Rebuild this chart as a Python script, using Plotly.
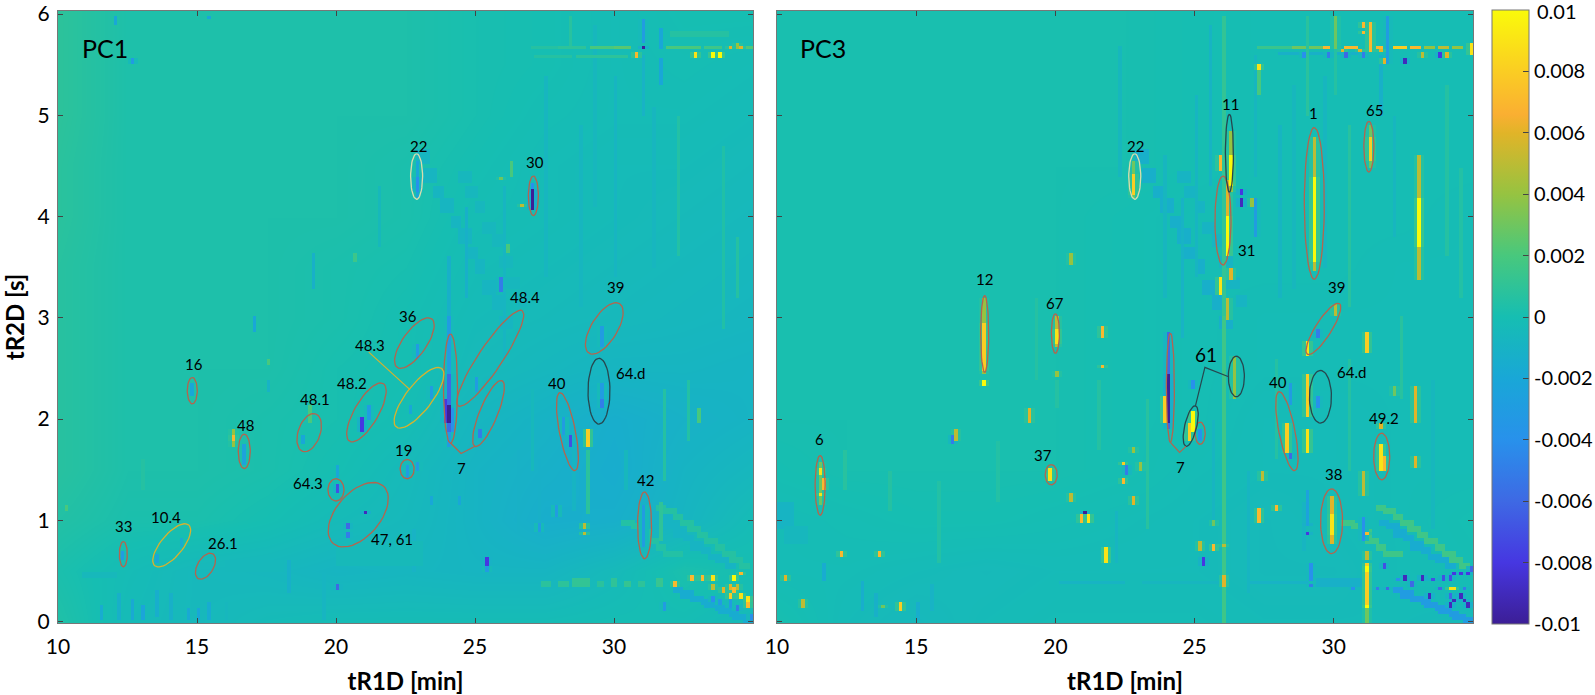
import numpy as np
import plotly.graph_objects as go

W, H = 1595, 695
L_DOM = (58, 753)
R_DOM = (777, 1473)
Y_DOM = (11, 623)
XR = [10, 35]
YR = [-0.015, 6.03]

CBAR_VALS = [0.008, 0.006, 0.004, 0.002, 0, -0.002, -0.004, -0.006, -0.008, -0.01]
CBAR_TEXT = ["0.008", "0.006", "0.004", "0.002", "0", "-0.002", "-0.004", "-0.006", "-0.008", "-0.01"]
CBAR_TOP_TEXT = "0.01"
COLORS = [[0, "rgb(60,30,150)"], [0.1, "rgb(70,55,225)"], [0.2, "rgb(62,105,228)"], [0.3, "rgb(40,145,235)"],
          [0.4, "rgb(25,167,215)"], [0.5, "rgb(22,190,178)"], [0.6, "rgb(72,200,125)"], [0.7, "rgb(150,195,65)"],
          [0.8, "rgb(225,180,40)"], [0.83, "rgb(250,175,50)"], [0.9, "rgb(250,205,35)"], [1, "rgb(250,250,10)"]]

# coarse background, in units of 1e-3 (rows y = 0 ... 6 by 0.5, columns x = 10 ... 35 by 2.5)
BG_X = [10, 12.5, 15, 17.5, 20, 22.5, 25, 27.5, 30, 32.5, 35]
BG_Y = [0, .5, 1, 1.5, 2, 2.5, 3, 3.5, 4, 4.5, 5, 5.5, 6]
BG_PC1 = [
    [.4, -.3, -.5, -.3, -.2, -.2, -.2, -.2, -.1, -.1, -.4],
    [.2, -.2, -.5, -.6, -.8, -.7, -.8, -.8, -.4, .2, 0],
    [.5, .2, .2, 0, -.3, -.5, -.9, -1.4, -1.3, -.8, -.2],
    [.7, .3, .3, .2, 0, -.4, -.9, -1.2, -1.5, -.9, -.6],
    [.7, .3, .3, .2, .1, -.1, -.7, -1.0, -1.4, -1.1, -.9],
    [.7, .3, .3, .3, .1, 0, -.4, -.6, -.8, -.8, -.9],
    [.7, .3, .3, .3, .2, 0, -.3, -.4, -.5, -.6, -.7],
    [.7, .3, .3, .3, .2, .1, -.2, -.3, -.4, -.5, -.6],
    [.8, .3, .3, .3, .3, .2, -.1, -.2, -.3, -.4, -.5],
    [.8, .3, .3, .3, .3, .2, 0, -.2, -.3, -.3, -.4],
    [.9, .3, .3, .3, .3, .3, .1, -.1, -.2, -.2, -.3],
    [.9, .3, .3, .3, .3, .3, .1, 0, -.2, -.1, -.2],
    [.9, .3, .3, .3, .3, .3, .1, 0, -.2, 0, 0],
]
BG_PC3 = [
    [.1, -.3, -.5, -.3, -.2, -.2, -.2, -.3, -.3, -.3, -.4],
    [-.2, -.2, -.3, -.4, -.3, -.3, -.3, -.4, -.4, -.2, -.1],
    [-.2, -.1, 0, 0, -.1, -.2, -.3, -.4, -.3, -.2, 0],
    [0, .1, .1, .1, .1, 0, -.2, -.3, -.3, -.2, -.2],
    [.1, .1, .1, .1, .1, 0, -.1, -.3, -.3, -.2, -.2],
    [.1, .1, .1, .1, .1, 0, -.1, -.2, -.2, -.2, -.2],
    [.1, .1, .1, .1, .1, 0, -.1, -.2, -.2, -.2, -.2],
    [.1, .1, .1, .1, .1, 0, -.1, -.1, -.1, -.2, -.2],
    [.1, .1, .1, .1, .1, 0, -.1, -.1, -.1, -.1, -.2],
    [.1, .1, .1, .1, .1, .1, 0, -.1, -.1, -.1, -.1],
    [.1, .1, .1, .1, .1, .1, 0, -.1, -.1, -.1, -.1],
    [.1, .1, .1, .1, .1, .1, 0, -.1, -.1, -.1, -.1],
    [.1, .1, .1, .1, .1, .1, 0, -.1, -.1, -.1, -.1],
]

# broad rectangles: x0, x1, y0, y1, value
BANDS_PC1 = [
    (27.4, 27.7, 0.35, 0.42, .0008), (28, 28.3, 0.34, 0.41, .0009), (28.6, 29, 0.36, 0.43, .0011), (29.4, 29.6, 0.34, 0.42, .0008),
    (29.9, 30.1, 0.34, 0.43, .001), (30.4, 30.6, 0.36, 0.42, .0012), (30.9, 31.1, 0.34, 0.42, .0009), (31.5, 31.7, 0.36, 0.43, .0013),
    (27, 28, 5.65, 5.69, .0006), (28, 28.9, 5.65, 5.69, .0009), (29.2, 29.9, 5.65, 5.69, .002), (30.1, 30.6, 5.65, 5.69, .0024),
    (31.9, 32.4, 5.65, 5.69, .002), (32.6, 33, 5.65, 5.69, .002), (33.3, 33.8, 5.65, 5.69, .0016), (34.1, 34.9, 5.65, 5.69, .0022),
    (27.2, 28.4, 5.57, 5.6, .0006), (28.7, 30.4, 5.57, 5.6, .0009), (32, 34, 5.78, 5.84, .0006),
    (10.9, 12, 0.43, 0.5, -.0005), (16, 18, 0.5, 0.62, -.0005), (20, 23, 0.55, 0.8, -.0004),
]
BANDS_PC3 = [
    (20.2, 22.4, 0.37, 0.42, -.0009), (23.2, 25.8, 0.37, 0.42, -.0007), (27, 29, 0.37, 0.42, -.001), (29.4, 31, 0.36, 0.43, -.0012),
    (27.3, 28.5, 5.66, 5.69, .0014), (28.5, 29.5, 5.66, 5.7, .003), (29.65, 30.1, 5.66, 5.7, .007), (30.4, 30.87, 5.66, 5.7, .007),
    (31.15, 31.65, 5.66, 5.7, .007), (32, 32.55, 5.66, 5.7, .008), (32.8, 33.1, 5.66, 5.7, .007),
    (33.3, 33.5, 5.66, 5.7, .004), (33.8, 34.1, 5.66, 5.7, .005), (34.3, 34.6, 5.66, 5.7, .004),
    (28, 31, 5.6, 5.63, -.0012), (10, 10.6, 0.9, 1.2, -.0009), (10.3, 11, 0.75, 0.95, -.0006),
]

# faint vertical stripes: x, y0, y1, value
FAINT_PC1 = [
    (11.6, .02, .16, -.0016), (12.2, .02, .3, -.0012), (12.7, .02, .22, -.0018), (13, .02, .16, -.0022), (13.6, .05, .32, -.0014),
    (14.1, .02, .28, -.0012), (14.7, .02, .14, -.0018), (15.1, .02, .15, -.002), (15.4, .02, .18, -.0016), (16, .02, .2, -.0006),
    (18.3, .3, .62, -.0012), (19.6, .02, .5, -.0008), (22.8, .5, .9, -.001), (24.1, 2.85, 3.6, -.0012), (24.7, 3.2, 4.1, -.0012),
    (26.1, 2.6, 4.3, -.0008), (27.5, 3.4, 5.4, -.0007), (28.8, 3.1, 4.9, -.0007), (29.3, 4.1, 5.9, -.0006), (30.1, 3.4, 5.4, -.0008),
    (31.4, 3.5, 5.1, -.0007), (32.3, 3.6, 5, .0005), (33.9, 2.9, 4.7, .0004), (34.4, 3.2, 3.8, .0006), (21.5, 3.7, 4.3, -.0005),
    (27, 1.5, 2.3, -.0005), (26.6, .85, 1.7, -.0011), (27.3, 1, 1.6, -.0012), (28.6, 1.1, 1.9, -.0009), (30.4, 1.3, 1.7, -.0006),
    (31.8, 1.4, 2.3, .0006), (32.7, 1.8, 2.4, .0005), (16.3, 2.7, 3.4, .0003), (13, 1.3, 1.6, .0006),
]
FAINT_PC3 = [
    (22.3, 4.4, 5.7, -.0006), (23.9, 3.2, 4.6, -.0007), (24.5, 2.8, 4.2, -.001), (25, 3.4, 5.2, -.0008), (25.5, 4.3, 5.9, -.0009),
    (27.2, 4.4, 5.6, -.0007), (28, 3.2, 4.9, -.0008), (28.5, 3.3, 5.3, -.0006), (29.7, 3.5, 5.4, -.0007), (30.5, 3.1, 4.9, .0007),
    (31.7, 5.0, 5.6, -.0012), (32.2, 3.8, 5, -.0007), (34, 3.6, 5.3, .0006), (34.5, 3.2, 4.5, .0005), (23.3, .9, 2.2, .0007),
    (21.6, 1.7, 2.4, .0006), (19.3, 2.4, 3.2, .0006), (17.9, 1.2, 1.8, .0005), (15.8, .6, 1.4, .0005), (14.1, 1.1, 1.5, .0006),
    (12.4, 1.3, 1.7, .0007), (13.1, .1, .4, -.0014), (13.6, .05, .3, -.0012), (15, .02, .2, -.0014), (15.6, .1, .38, -.001),
    (11.7, .42, .6, -.0016), (27.9, 1.6, 2.6, .0006), (28.9, .7, 1.2, -.0008), (30.5, 1.5, 2.6, .0006), (32.4, 2.2, 3, .0007),
    (33.6, .9, 2.4, -.0006), (20, 2.1, 2.4, .0006), (26.9, .3, 1.5, -.0008), (25.7, 1.0, 2, -.0008), (22.2, .6, 1.1, -.0008),
]

# diagonal streaks: x, y centre
STREAK_X = [23.1, 23.4, 23.7, 24, 24.3, 24.6, 24.9, 25.2, 25.5, 25.8, 26.1]
STREAK_Y = [4.6, 4.4, 4.25, 4.1, 3.95, 3.8, 3.65, 3.5, 3.3, 3.15, 2.95]
STREAK2_X = [24.6, 24.9, 25.2, 25.5, 25.8, 26.1, 26.4, 26.7]
STREAK2_Y = [4.4, 4.25, 4.1, 3.9, 3.75, 3.55, 3.35, 3.15]
DIAG1_X = [31.7, 32, 32.3, 32.6, 32.9, 33.2, 33.5, 33.8, 34.1, 34.4, 34.7]
DIAG1_Y = [1.14, 1.09, 1.03, .97, .91, .85, .79, .73, .67, .6, .57]
DIAG2_X = [30.5, 30.8, 31.1, 31.4, 31.7, 32, 32.3]
DIAG2_Y = [.99, .93, .87, .8, .74, .68, .66]
DIAG3_X = [31.8, 32.1, 32.4, 32.7, 33, 33.3, 33.6, 33.9, 34.2]
DIAG3_Y = [.98, .93, .87, .81, .75, .7, .65, .6, .55]
DIAG4_X = [32.3, 32.6, 33, 33.3, 33.5, 33.8, 34, 34.3, 34.5, 34.9]
DIAG4_Y = [.31, .27, .22, .19, .16, .13, .1, .07, .05, .03]

# vertical spots: x, y0, y1, value  (later rows overwrite earlier ones)
SPOTS_PC1 = [
    (22.9, 4.2, 4.55, -.002), (22.9, 4.25, 4.4, -.004), (27.1, 4.05, 4.35, -.004), (27.1, 4.08, 4.27, -.01),
    (26.7, 4.09, 4.13, .005), (26.28, 4.4, 4.53, .002), (25.9, 4.36, 4.4, .003), (25.9, 3.25, 3.39, -.005),
    (20.63, 3.54, 3.64, .0015), (19.23, 3.3, 3.64, -.0012), (17.04, 2.85, 3.0, -.002), (26.14, 3.64, 3.74, .002),
    (31, 5.71, 5.96, -.003), (31.05, 5.65, 5.69, -.01), (31.74, 5.65, 5.88, -.002), (31.74, 5.3, 5.55, -.002),
    (12.7, 5.52, 5.56, -.003), (15.48, 5.96, 6.0, -.002), (12, 5.9, 5.98, -.002),
    (31, 5.0, 5.6, -.001), (28.4, 5.7, 6.0, .0007),
    (30.87, 5.57, 5.61, .007), (32.97, 5.57, 5.61, .009), (33.6, 5.57, 5.61, .01), (33.77, 5.57, 5.61, .01),
    (34.15, 5.66, 5.7, .006), (34.57, 5.66, 5.7, .006), (34.4, 5.66, 5.72, .004),
    (16.33, 1.73, 1.91, .004), (16.33, 1.77, 1.86, .007), (16.7, 1.56, 1.76, -.0025), (14.83, 2.22, 2.35, -.002),
    (12.35, .62, .69, -.003), (14.4, .74, .84, -.0015), (13.6, .6, .67, -.002), (18.87, 1.76, 1.84, -.002),
    (19.1, 1.96, 2.15, .002), (20.9, 1.87, 2.02, -.008), (21.23, 2.0, 2.15, -.003), (23.4, 2.19, 2.32, -.003),
    (22.66, 2.05, 2.15, -.002), (24.09, 2.45, 3.0, -.003), (24.09, 1.89, 2.45, -.006), (24.09, 1.96, 2.15, -.01),
    (23.95, 1.96, 2.19, -.008), (24.23, 1.89, 2.12, -.004), (24.09, 1.72, 1.89, -.003),
    (25, 2.25, 2.42, -.003), (25.18, 1.82, 1.92, -.005), (22.92, 2.6, 2.75, -.003), (29.53, 2.72, 2.93, -.003),
    (29.5, 2.1, 2.35, -.003), (29.5, 2.1, 2.19, -.005), (28.2, 1.86, 2.02, -.003), (28.4, 1.71, 1.83, -.007),
    (29.1, 1.73, 1.92, .008), (28.97, .92, .98, .005), (28.97, .85, .89, .005), (22.6, 1.43, 1.56, -.003),
    (22.9, 1.5, 1.58, -.003), (20, 1.27, 1.35, -.007), (20, 1.43, 1.55, -.002), (21.1, 1.05, 1.1, -.009),
    (20.4, .92, .97, -.006), (20.4, .84, .89, -.005), (31.05, .74, 1.17, -.003), (25.4, .54, .64, -.008),
    (25.4, .5, .54, -.003), (20, .31, .38, -.006), (33, 1.97, 2.1, .002), (17.5, 2.53, 2.6, .002),
    (17.5, 2.25, 2.38, -.001), (27.9, 1.04, 1.15, -.003), (24.4, 1.15, 1.23, -.002), (23.48, 1.17, 1.26, -.002),
    (27.27, .87, .97, -.003), (10.37, 1.1, 1.17, .002), (29.1, 1.05, 1.7, .0008), (31.7, .8, 1.2, .001),
    (32.23, .36, .42, .007), (32.85, .39, .46, .007), (33.16, .4, .46, .007), (33.57, .4, .46, .009),
    (34.27, .4, .46, .01), (34.59, .45, .5, .007), (33.57, .32, .38, .005), (34.16, .32, .38, .006),
    (34.38, .32, .38, .005), (33.9, .27, .33, .006), (34.22, .24, .3, .008), (34.31, .27, .33, .007),
    (34.59, .23, .29, .009), (34.77, .2, .26, .009), (34.86, .15, .21, .007), (33.55, .2, .26, -.004),
    (33.8, .17, .23, -.003), (34.49, .1, .16, -.005), (31.85, .11, .2, -.003), (34.16, .14, .22, -.003),
    (34.95, .02, .08, -.004),
]
SPOTS_PC3 = [
    (26.08, 3.0, 6, .0011), (26.08, .0, 3.0, .0016),
    (22.85, 4.2, 4.55, .003), (22.85, 4.22, 4.42, .008), (26.27, 4.25, 4.85, .004), (26.27, 4.3, 4.6, .01),
    (25.95, 4.45, 4.6, .007), (26.14, 3.6, 4.37, .006), (26.14, 3.62, 4.0, .01), (25.95, 3.23, 3.39, .009),
    (26.37, 3.37, 3.5, .006), (26.18, 2.98, 3.18, .005), (29.3, 3.45, 4.8, .005), (29.3, 3.55, 4.4, .01),
    (31.28, 4.5, 4.9, .003), (31.28, 4.55, 4.8, .008), (33.08, 3.38, 4.6, .005), (33.08, 3.7, 4.2, .01),
    (31.17, 2.75, 2.88, .008), (26.7, 4.22, 4.27, -.008), (26.7, 4.1, 4.17, -.009), (27.23, 3.8, 4.2, -.003),
    (27.05, 4.1, 4.17, .004), (17.47, 2.45, 3.2, .004), (17.47, 2.48, 2.95, .008), (17.47, 2.31, 2.4, .01),
    (20, 2.7, 3, .005), (20, 2.75, 2.9, .009), (21.65, 2.79, 2.92, .007), (20.57, 3.52, 3.64, .004),
    (21.68, 2.49, 2.54, .007), (20.06, 2.41, 2.47, .004), (24.07, 1.9, 2.85, -.006), (24.07, 1.95, 2.45, -.01),
    (23.95, 1.96, 2.22, .008), (24.97, 2.29, 2.39, -.004), (24.97, 1.87, 2.08, .01), (24.78, 1.8, 1.95, .008),
    (25.16, 1.8, 1.9, -.004), (26.48, 2.31, 2.52, .009), (26.48, 2.2, 2.62, .004), (28.37, 1.67, 1.96, .008),
    (28.47, 1.59, 1.67, -.006), (28.47, 2.13, 2.36, -.003), (29, 2.03, 2.44, .008), (29.06, 1.67, 1.91, .009),
    (29, 2.62, 2.78, .009), (29.47, 2.1, 2.24, -.004), (30.06, 3.02, 3.13, .005), (29.47, 2.79, 2.9, -.005),
    (31.15, 2.65, 2.78, .008), (31.68, 1.5, 1.76, .009), (31.76, 1.5, 1.63, .007), (31.68, 1.92, 1.96, .006),
    (32.98, 1.96, 2.34, .006), (32.98, 1.52, 1.65, .006), (32.14, 2.22, 2.32, .003), (29.96, .75, 1.24, .006),
    (29.96, .85, 1.05, .009), (31, 1.24, 1.47, .005), (11.55, 1.17, 1.57, .003), (11.55, 1.46, 1.51, .009),
    (11.55, 1.23, 1.28, .009), (11.64, 1.29, 1.42, .007), (19.85, 1.39, 1.52, .009), (19.06, 1.96, 2.11, .006),
    (16.46, 1.78, 1.9, .005), (16.27, 1.75, 1.85, -.005), (22.47, 1.54, 1.58, .008), (22.47, 1.37, 1.44, .007),
    (22.77, 1.16, 1.24, .006), (23.04, 1.5, 1.58, .004), (22.56, 1.45, 1.54, -.005), (22.85, 1.67, 1.72, .004),
    (20.57, 1.19, 1.27, .005), (21.05, 1.06, 1.1, -.01), (20.97, .98, 1.06, .007), (21.17, .98, 1.06, .009),
    (27.28, .97, 1.11, .007), (27.88, 1.1, 1.15, .007), (27.38, 1.4, 1.49, .005), (21.78, .58, .74, .009),
    (25.16, .71, .79, .005), (25.66, .71, .75, .007), (25.66, .95, .99, .003), (25.37, .55, .63, -.008),
    (12.28, .63, .71, .007), (13.67, .63, .71, .007), (10.88, .15, .24, .005), (14.46, .11, .19, .008),
    (10.25, .42, .45, .006), (13.83, .12, .16, .003), (26.08, .33, .45, .006), (26.08, .73, .77, .005),
    (31.18, .12, .58, .008), (31.18, .5, .55, .01), (31.18, .12, .16, .01), (31.18, 0, .12, .003),
    (31.18, .85, .89, .007), (31.18, .62, .7, .005), (31.1, .79, 1.03, -.004), (29.03, .93, .96, -.008),
    (29.03, .85, .88, -.008), (29.03, .96, 1.3, -.0025), (29.2, .41, .58, -.004), (29.2, .33, .37, -.005),
    (32.5, .41, .45, -.009), (33.13, .41, .45, -.009), (33.5, .39, .43, -.007), (33.9, .41, .45, -.007),
    (34.2, .41, .45, -.007), (34.3, .45, .49, -.008), (34.5, .45, .49, -.008), (34.8, .45, .49, -.008),
    (34.9, .5, .54, -.006), (33.4, .23, .27, -.009), (34.13, .14, .18, -.009), (34.3, .19, .23, -.009),
    (34.5, .23, .27, -.009), (34.7, .19, .23, -.009), (34.8, .14, .18, -.009), (34.13, .23, .27, -.006),
    (33.85, .32, .36, -.006), (34.13, .32, .36, .009), (34.3, .32, .36, .009), (34.65, .32, .36, -.005),
    (31.95, .32, .36, -.006), (31.5, .32, .36, -.005), (30.7, .32, .36, -.004), (32.85, .34, .41, -.006),
    (31.76, .53, .57, -.007), (32.3, .39, .43, -.004), (31.26, 5.62, 5.94, .007), (31.07, 5.8, 5.85, .007),
    (31.07, 5.88, 5.92, .007), (30.05, 5.65, 6.0, .003), (31.97, 5.5, 6.0, -.003), (28.9, 5.58, 5.62, -.004),
    (29.75, 5.58, 5.62, -.005), (30.45, 5.58, 5.62, -.006), (31, 5.58, 5.62, -.005), (30.25, 5.62, 5.65, .006),
    (30.9, 5.62, 5.65, .006), (31.7, 5.62, 5.65, .006), (31.8, 5.52, 5.56, .006), (32.5, 5.52, 5.56, -.009),
    (33.2, 5.58, 5.62, .005), (33.85, 5.58, 5.62, -.008), (34, 5.58, 5.62, .006), (34.88, 5.6, 5.72, .009),
    (27.3, 5.43, 5.51, .009), (27.3, 5.2, 5.43, .002), (29, 5.0, 6.0, .0008), (30.1, 5.2, 5.65, .0006),
]

PC1_RED = [
    (12.35, .54, 12.35, .79, 4), (15.04, .424, 15.57, .668, 8), (14.83, 2.15, 14.83, 2.41, 5), (16.7, 1.51, 16.7, 1.85, 6),
    (18.8, 1.68, 19.27, 2.05, 11), (20.49, 1.78, 21.7, 2.35, 12), (22.2, 2.51, 23.44, 2.99, 12),
    (24.12, 1.76, 24.12, 2.84, 7), (25, 1.73, 25.97, 2.38, 9), (24.4, 2.13, 26.7, 3.07, 12), (29.1, 2.65, 30.2, 3.14, 13),
    (28.05, 2.26, 28.6, 1.49, 8), (22.56, 1.41, 22.56, 1.6, 7), (20, 1.19, 20, 1.41, 8), (19.9, .77, 21.7, 1.34, 22),
    (31.1, .62, 31.1, 1.28, 7), (27.1, 4.01, 27.1, 4.4, 5),
]
PC1_YELLOW = [(13.48, .55, 14.7, .954, 11), (22.17, 1.92, 23.8, 2.5, 13)]
PC1_DARK = [(29.46, 1.95, 29.46, 2.6, 11)]
PC1_PALE = [(22.9, 4.17, 22.9, 4.62, 6)]
PC3_RED = [
    (11.55, 1.05, 11.55, 1.64, 5), (19.85, 1.35, 19.85, 1.55, 6), (17.46, 2.46, 17.46, 3.22, 4), (20, 2.65, 20, 3.04, 4),
    (24.13, 1.77, 24.13, 2.85, 4), (25.2, 1.75, 25.2, 1.97, 5), (28.03, 2.27, 28.6, 1.49, 8), (29.05, 2.64, 30.2, 3.14, 8),
    (31.72, 1.4, 31.72, 1.86, 8), (29.92, .67, 29.92, 1.31, 11), (26.02, 3.52, 26.02, 4.4, 8), (29.3, 3.38, 29.3, 4.88, 10),
    (31.26, 4.44, 31.26, 4.94, 5),
]
PC3_DARK = [(24.69, 1.73, 25.03, 2.13, 6), (26.5, 2.22, 26.5, 2.62, 8), (29.52, 1.96, 29.52, 2.48, 11), (26.25, 4.24, 26.25, 5.01, 4)]
PC3_PALE = [(22.85, 4.17, 22.85, 4.62, 6)]

LEAD_PC1_7 = ([24.13, 24.5, 25], [1.76, 1.66, 1.73])
LEAD_PC1_483 = ([21.18, 22.66], [2.66, 2.29])
LEAD_PC3_7 = ([24.13, 24.46, 24.69], [1.77, 1.67, 1.73])
LEAD_PC3_61 = ([25.03, 25.37, 26.2], [2.13, 2.51, 2.42])

LABELS_PC1 = [("33", 12.35, .944), ("10.4", 13.88, 1.036), ("26.1", 15.93, .78), ("16", 14.89, 2.54), ("48", 16.75, 1.94),
              ("48.1", 19.25, 2.2), ("48.2", 20.56, 2.36), ("48.3", 21.23, 2.73), ("36", 22.6, 3.02), ("48.4", 26.8, 3.21),
              ("39", 30.05, 3.3), ("64.d", 30.6, 2.45), ("40", 27.96, 2.36), ("7", 24.52, 1.52), ("19", 22.42, 1.69),
              ("64.3", 19, 1.37), ("47, 61", 22, .81), ("42", 31.15, 1.4), ("30", 27.17, 4.54), ("22", 22.95, 4.7)]
LABELS_PC3 = [("6", 11.53, 1.8), ("37", 19.54, 1.64), ("12", 17.46, 3.38), ("67", 20, 3.15), ("22", 22.88, 4.7), ("11", 26.3, 5.11),
              ("1", 29.27, 5.02), ("65", 31.47, 5.05), ("31", 26.88, 3.67), ("39", 30.1, 3.3), ("64.d", 30.65, 2.46),
              ("40", 28, 2.37), ("49.2", 31.82, 2.01), ("7", 24.5, 1.53), ("38", 30, 1.46)]
LABEL_61 = ("61", 25.4, 2.64)
PANELS = [("PC1", 11.7, 5.66), ("PC3", 11.64, 5.66)]

DX, DY = 1 / 8, 0.03
NX, NY = 200, 202
xc = XR[0] + (np.arange(NX) + .5) * DX
yc = YR[0] + (np.arange(NY) + .5) * DY


def paint(z, x0, x1, y0, y1, v):
    i0 = int(np.floor((x0 - XR[0]) / DX)); i1 = int(np.floor((x1 - XR[0]) / DX))
    j0 = int(round((y0 - YR[0]) / DY)); j1 = max(int(round((y1 - YR[0]) / DY)), j0 + 1)
    z[max(j0, 0):min(j1, NY), max(i0, 0):min(i1 + 1, NX)] = v


def build(bands, faint, spots, diags):
    z = np.full((NY, NX), np.nan)
    for xs, ys, hh, v in diags:
        for x, y in zip(xs, ys):
            paint(z, x - .16, x + .16, y - hh, y + hh, v)
    for x, y0, y1, v in faint:
        paint(z, x, x, y0, y1, v)
    for b in bands:
        paint(z, *b)
    # soft edge of the stronger spots, as in the blurred source image
    for x, y0, y1, v in spots:
        if abs(v) >= .003:
            paint(z, x - DX, x + DX, y0, y1, 0.13 * v)
    for x, y0, y1, v in spots:
        paint(z, x, x, y0, y1, v)
    return z


z1 = build(BANDS_PC1, FAINT_PC1, SPOTS_PC1,
           [(STREAK_X, STREAK_Y, .07, -.0008), (STREAK2_X, STREAK2_Y, .06, -.0006), (DIAG1_X, DIAG1_Y, .03, .0006),
            (DIAG2_X, DIAG2_Y, .03, .0005), (DIAG3_X, DIAG3_Y, .03, -.0009), (DIAG4_X, DIAG4_Y, .03, -.0016)])
z3 = build(BANDS_PC3, FAINT_PC3, SPOTS_PC3,
           [(STREAK_X, STREAK_Y, .07, -.0013), (STREAK2_X, STREAK2_Y, .06, -.0009), (DIAG1_X, DIAG1_Y, .03, .0016),
            (DIAG2_X, DIAG2_Y, .03, .0016), (DIAG3_X, DIAG3_Y, .03, -.0016), (DIAG4_X, DIAG4_Y, .03, -.003)])

fig = go.Figure()
for bg, z, xa, ya in [(BG_PC1, z1, "x", "y"), (BG_PC3, z3, "x2", "y2")]:
    fig.add_trace(go.Heatmap(x=BG_X, y=BG_Y, z=np.array(bg) * 1e-3, coloraxis="coloraxis", zsmooth="best",
                             xaxis=xa, yaxis=ya, hoverinfo="skip"))
    fig.add_trace(go.Heatmap(x=xc, y=yc, z=z, coloraxis="coloraxis", xaxis=xa, yaxis=ya, hoverongaps=False))

sx = (L_DOM[1] - L_DOM[0]) / (XR[1] - XR[0])
sy = (Y_DOM[1] - Y_DOM[0]) / (YR[1] - YR[0])


def outline(items):
    xs, ys = [], []
    t = np.linspace(0, 2 * np.pi, 49)
    for x0, y0, x1, y1, hw in items:
        cx, cy = (x0 + x1) / 2, (y0 + y1) / 2
        ax, ay = (x1 - x0) / 2 * sx, (y1 - y0) / 2 * sy
        n = np.hypot(ax, ay)
        px = ax * np.cos(t) - ay / n * hw * np.sin(t)
        py = ay * np.cos(t) + ax / n * hw * np.sin(t)
        xs += list(cx + px / sx) + [None]
        ys += list(cy + py / sy) + [None]
    return xs, ys


RED, YEL, DARK, PALE = "#b4654e", "#d8b22e", "#27474f", "#d9dcae"
for items, col, xa, ya in [(PC1_RED, RED, "x", "y"), (PC1_YELLOW, YEL, "x", "y"), (PC1_DARK, DARK, "x", "y"),
                           (PC1_PALE, PALE, "x", "y"), (PC3_RED, RED, "x2", "y2"), (PC3_DARK, DARK, "x2", "y2"),
                           (PC3_PALE, PALE, "x2", "y2")]:
    xs, ys = outline(items)
    fig.add_trace(go.Scatter(x=xs, y=ys, mode="lines", line=dict(color=col, width=1.3), xaxis=xa, yaxis=ya,
                             hoverinfo="skip", showlegend=False))
for (xs, ys), col, xa, ya in [(LEAD_PC1_7, RED, "x", "y"), (LEAD_PC1_483, YEL, "x", "y"), (LEAD_PC3_7, RED, "x2", "y2"),
                              (LEAD_PC3_61, DARK, "x2", "y2")]:
    fig.add_trace(go.Scatter(x=xs, y=ys, mode="lines", line=dict(color=col, width=1.2), xaxis=xa, yaxis=ya,
                             hoverinfo="skip", showlegend=False))

FONT = "Lato"
ann = []
for labs, xa, ya in [(LABELS_PC1, "x", "y"), (LABELS_PC3, "x2", "y2")]:
    for t, x, y in labs:
        ann.append(dict(text=t, x=x, y=y, xref=xa, yref=ya, showarrow=False, font=dict(size=15, color="black", family=FONT)))
ann.append(dict(text=LABEL_61[0], x=LABEL_61[1], y=LABEL_61[2], xref="x2", yref="y2", showarrow=False,
                font=dict(size=19, color="black", family=FONT)))
for (t, x, y), xa, ya in zip(PANELS, ["x", "x2"], ["y", "y2"]):
    ann.append(dict(text=t, x=x, y=y, xref=xa, yref=ya, showarrow=False, font=dict(size=25, color="black", family=FONT)))
ann.append(dict(text=CBAR_TOP_TEXT, x=1535 / W, y=1 - 11 / H, xref="paper", yref="paper", xanchor="left", yanchor="middle",
                showarrow=False, font=dict(size=20, color="black", family=FONT)))

axis_x = dict(range=XR, tickvals=[10, 15, 20, 25, 30], ticks="inside", ticklen=5, tickcolor="#444", mirror="ticks",
              showline=True, linecolor="#777", linewidth=1, showgrid=False, zeroline=False, ticklabelstandoff=5,
              tickfont=dict(size=21, color="black", family=FONT),
              title=dict(text="<b>tR1D [min]</b>", font=dict(size=24, color="black", family=FONT), standoff=15))
axis_y = dict(range=YR, tickvals=[0, 1, 2, 3, 4, 5, 6], ticks="inside", ticklen=5, tickcolor="#444", mirror="ticks",
              showline=True, linecolor="#777", linewidth=1, showgrid=False, zeroline=False,
              tickfont=dict(size=21, color="black", family=FONT), domain=[1 - Y_DOM[1] / H, 1 - Y_DOM[0] / H])

fig.update_layout(
    width=W, height=H, margin=dict(l=0, r=0, t=0, b=0, autoexpand=False), paper_bgcolor="white", plot_bgcolor="white",
    showlegend=False, annotations=ann,
    xaxis=dict(axis_x, domain=[L_DOM[0] / W, L_DOM[1] / W], anchor="y"),
    xaxis2=dict(axis_x, domain=[R_DOM[0] / W, R_DOM[1] / W], anchor="y2"),
    yaxis=dict(axis_y, anchor="x", ticklabelstandoff=3,
               title=dict(text="<b>tR2D [s]</b>", font=dict(size=24, color="black", family=FONT), standoff=8)),
    yaxis2=dict(axis_y, anchor="x2", showticklabels=False),
    coloraxis=dict(cmin=-0.01, cmax=0.01, colorscale=COLORS,
                   colorbar=dict(x=1492 / W, xanchor="left", xpad=0, ypad=0, thickness=37, thicknessmode="pixels",
                                 len=(624 - 10) / H, lenmode="fraction", y=1 - 10 / H, yanchor="top",
                                 tickvals=CBAR_VALS, ticktext=CBAR_TEXT, ticks="inside", ticklen=6, tickcolor="#444",
                                 outlinecolor="#777", outlinewidth=1,
                                 tickfont=dict(size=20, color="black", family=FONT))),
)
fig.write_html("out.html", post_script="document.body.style.margin='0';", config=dict(displayModeBar=False))
